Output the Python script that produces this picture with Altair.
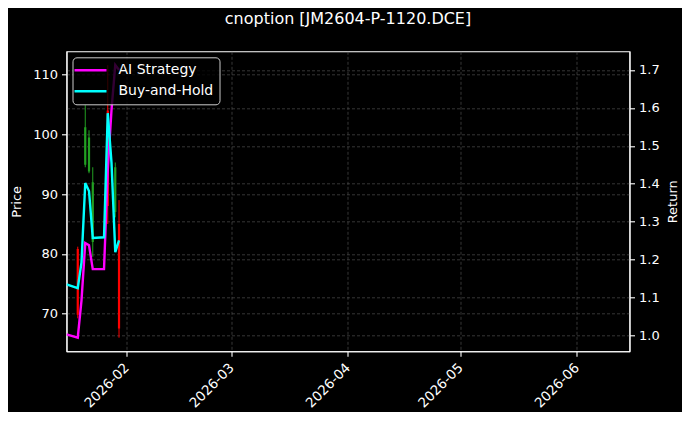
import altair as alt
import pandas as pd

# ---- candle data (price axis) ----
c_dates = ["2026-01-19", "2026-01-21", "2026-01-22", "2026-01-23",
           "2026-01-27", "2026-01-29", "2026-01-30"]
c_open  = [80.8, 94.9, 93.8, 82.0, 104.0, 87.0, 85.0]
c_high  = [81.2, 104.9, 100.7, 94.5, 111.6, 95.3, 89.0]
c_low   = [69.2, 94.5, 93.5, 79.5, 85.0, 86.1, 65.96]
c_close = [69.8, 101.2, 99.5, 92.0, 88.0, 94.5, 67.5]

# ---- return lines (return axis) ----
l_dates = ["2026-01-16", "2026-01-19", "2026-01-20", "2026-01-21", "2026-01-22",
           "2026-01-23", "2026-01-26", "2026-01-27", "2026-01-28", "2026-01-29",
           "2026-01-30"]
ai_strategy  = [1.003, 0.9945, 1.093, 1.244, 1.238, 1.175, 1.175, 1.436, 1.595, 1.713, 1.70]
buy_and_hold = [1.135, 1.125, 1.193, 1.402, 1.381, 1.257, 1.259, 1.586, 1.455, 1.220, 1.251]
series_names = ["AI Strategy", "Buy-and-Hold"]
series_colors = ["#ff00ff", "#00ffff"]

price_ticks = [70, 80, 90, 100, 110]
return_ticks = [1.0, 1.1, 1.2, 1.3, 1.4, 1.5, 1.6, 1.7]
month_ticks = [(2026, m) for m in [2, 3, 4, 5, 6]]

candles = pd.DataFrame({"date": c_dates, "open": c_open, "high": c_high,
                        "low": c_low, "close": c_close})
lines = pd.DataFrame({
    "date": l_dates * 2,
    "value": ai_strategy + buy_and_hold,
    "series": [series_names[0]] * len(l_dates) + [series_names[1]] * len(l_dates),
})

FONT = "DejaVu Sans"
x_scale = alt.Scale(type="utc",
                    domain=[alt.DateTime(year=2026, month=1, date=16, utc=True),
                            alt.DateTime(year=2026, month=6, date=15, hours=2, utc=True)])
x_axis = alt.Axis(values=[alt.DateTime(year=y, month=m, date=1, utc=True) for y, m in month_ticks],
                  labelExpr="utcFormat(datum.value, '%Y-%m')", labelAngle=-45,
                  labelAlign="right", labelBaseline="middle", title=None,
                  grid=True, labelPadding=9, labelFontSize=13.5)

x_enc = alt.X("date:T", scale=x_scale, axis=x_axis)

price_scale = alt.Scale(domain=[63.68, 113.92], nice=False, zero=False)
price_axis = alt.Axis(values=price_ticks, title="Price", grid=True, titlePadding=9)

color_cond = alt.condition("datum.close >= datum.open", alt.value("#22a022"), alt.value("#ff0000"))

base_c = alt.Chart(candles)
wick = base_c.mark_rule(strokeWidth=1, clip=True).encode(
    x=x_enc,
    y=alt.Y("low:Q", scale=price_scale, axis=price_axis),
    y2="high:Q",
    color=color_cond,
)
body = base_c.mark_rule(strokeWidth=2.2, clip=True).encode(
    x=x_enc,
    y=alt.Y("open:Q", scale=price_scale, axis=price_axis),
    y2="close:Q",
    color=color_cond,
)
price_layer = alt.layer(wick, body)

return_scale = alt.Scale(domain=[0.9586, 1.749], nice=False, zero=False)
return_axis = alt.Axis(values=return_ticks, format=".1f", orient="right", title="Return",
                       grid=True, titleAngle=270, titlePadding=20)

line_layer = alt.Chart(lines).mark_line(strokeWidth=2.4, clip=True).encode(
    x=x_enc,
    y=alt.Y("value:Q", scale=return_scale, axis=return_axis),
    color=alt.Color("series:N",
                    scale=alt.Scale(domain=series_names, range=series_colors),
                    title=None,
                    legend=alt.Legend(orient="top-left", offset=6,
                                      fillColor="rgba(0,0,0,0.8)", strokeColor="#cccccc",
                                      cornerRadius=4, padding=6,
                                      labelColor="white", labelFont=FONT, labelFontSize=14,
                                      symbolType="M-3.2,0H3.2", symbolStrokeWidth=2.4,
                                      symbolSize=100, symbolOffset=5,
                                      rowPadding=7, labelOffset=21)),
    detail="series:N",
)

chart = alt.layer(price_layer, line_layer).resolve_scale(y="independent").properties(
    width=563,
    height=300,
    autosize=alt.AutoSizeParams(type="none"),
    padding={"left": 58.5, "top": 43.3, "right": 52, "bottom": 61},
    title=alt.TitleParams("cnoption [JM2604-P-1120.DCE]", color="white", fontSize=16,
                          font=FONT, fontWeight="normal", anchor="middle", offset=24),
).configure(background="black").configure_view(
    stroke="white", strokeWidth=1.1
).configure_axis(
    domainColor="white", domainWidth=1.1, tickColor="white", tickWidth=1.1, tickSize=5,
    labelColor="white", titleColor="white", labelFont=FONT, titleFont=FONT,
    labelFontSize=13, titleFontSize=13, titleFontWeight="normal", labelPadding=4,
    gridColor="#5a5a5a", gridDash=[3, 2], gridWidth=0.6,
)

chart.save("out.html", embed_options={"renderer": "svg", "actions": False})
